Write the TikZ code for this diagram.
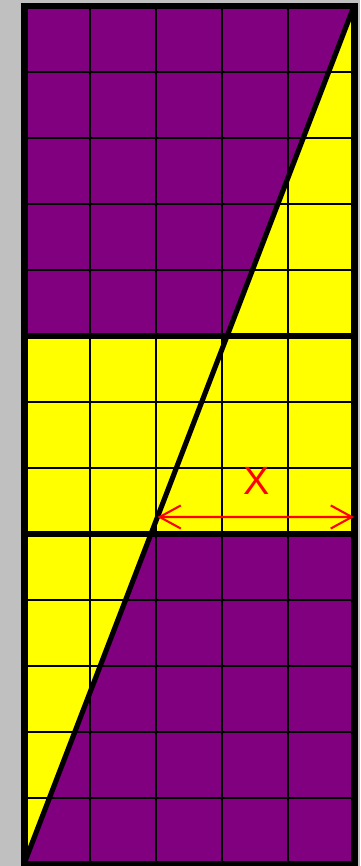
\documentclass[tikz,border=0pt]{standalone}
\usepackage{fontspec}
\setmainfont{Liberation Sans}
\usetikzlibrary{arrows.meta, calc}
\definecolor{canvasgrey}{RGB}{192,192,192}
\definecolor{cellpurple}{RGB}{128,0,128}
\definecolor{cellyellow}{RGB}{255,255,0}
\definecolor{markred}{RGB}{255,0,0}
\tikzstyle{gridline} = [draw=black, line width=0.85pt]
\tikzstyle{boldline} = [draw=black, line width=2.2pt]
\tikzstyle{frame} = [draw=black, line width=3pt, line join=miter]
\tikzstyle{measure} = [draw=markred, line width=0.9pt, {Straight Barb[length=3.2mm,width=3.5mm]}-{Straight Barb[length=3.2mm,width=3.5mm]}]
\tikzstyle{marktext} = [text=markred, font=\fontsize{17}{20}\selectfont, inner sep=0pt]

\begin{document}
\begin{tikzpicture}

% canvas
\useasboundingbox[fill=canvasgrey] (-0.364,-0.03) rectangle (5.091,13.091);

% corners of the board
\coordinate (sw) at (0,0);
\coordinate (ne) at (5,13);
\coordinate (cutlow) at ($(sw)!5/13!(ne)$);
\coordinate (cuthigh) at ($(sw)!8/13!(ne)$);

% Colour fills
\fill[cellyellow] (sw) rectangle (ne);
\fill[cellpurple] (0,8) -- (0,13) -- (ne) -- (cuthigh) -- cycle;
\fill[cellpurple] (sw) -- (cutlow) -- (5,5) -- (5,0) -- cycle;

% Grid
\draw[gridline] (sw) grid (ne);
\draw[boldline] (0,5) -- (5,5);
\draw[boldline] (0,8) -- (5,8);
\draw[boldline] (sw) -- (ne);
\draw[frame] (sw) rectangle (ne);

% Measure X
\coordinate (xleft) at ($(sw)!5.258/13!(ne)$);
\coordinate (xright) at (5,5.258);
\draw[measure] (xleft) -- (xright);
\node[marktext] (xtext) at (3.53,5.80) {X};

\end{tikzpicture}
\end{document}
